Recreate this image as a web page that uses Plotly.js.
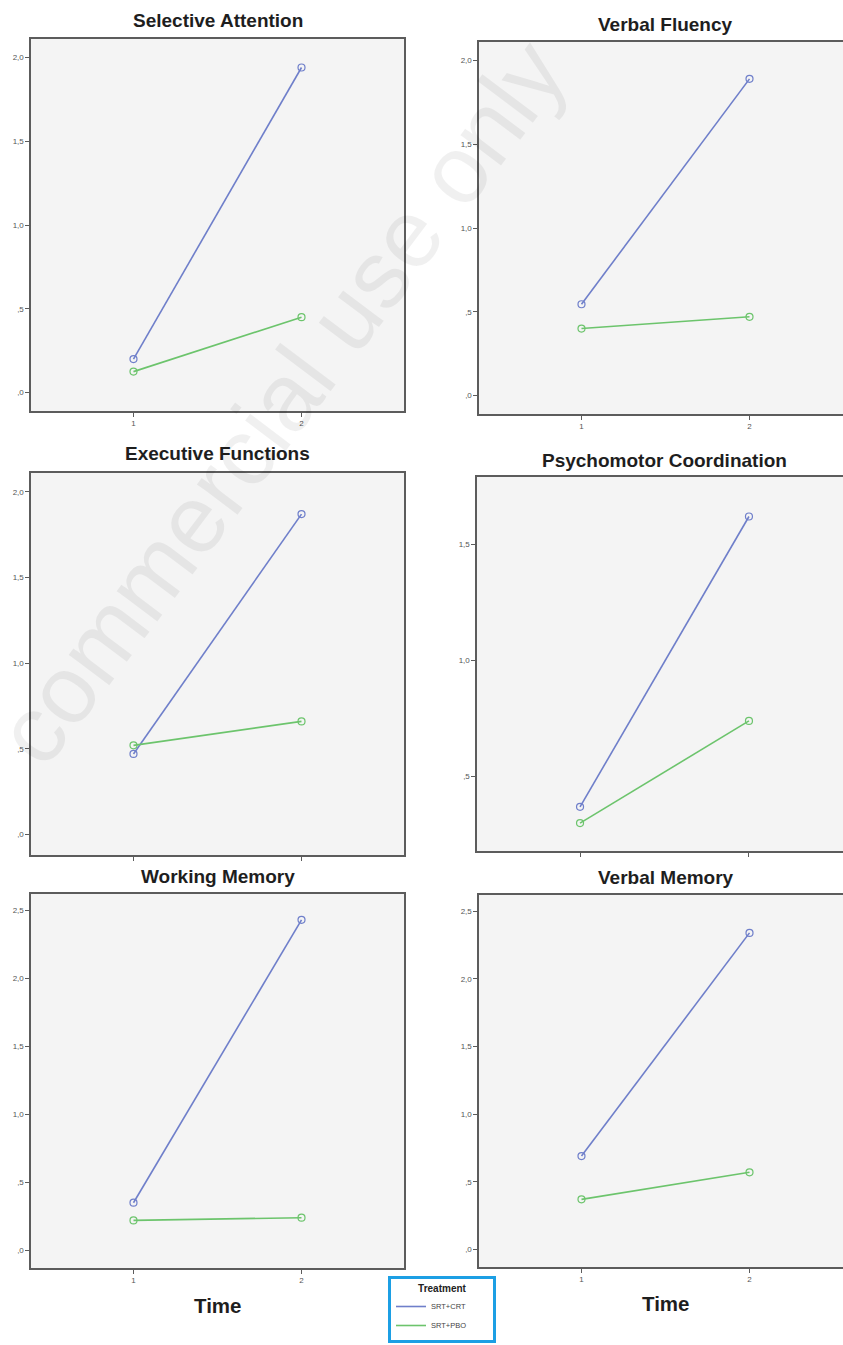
<!DOCTYPE html>
<html>
<head>
<meta charset="utf-8">
<script src="https://cdn.plot.ly/plotly-3.0.1.min.js"></script>
<style>
html,body{margin:0;padding:0;overflow:hidden;background:#fff;width:843px;height:1345px;}
#chart{width:860px;height:1345px;}
</style>
</head>
<body>
<div id="chart"></div>
<script>
// ---- data ----
const timePoints = [1, 2];
const timeTickText = ['1', '2'];
const panelTitles = ['Selective Attention', 'Verbal Fluency', 'Executive Functions',
                     'Psychomotor Coordination', 'Working Memory', 'Verbal Memory'];
const seriesNames = ['SRT+CRT', 'SRT+PBO'];

const selAttCRT = [0.20, 1.94];
const selAttPBO = [0.125, 0.45];
const verbFluCRT = [0.545, 1.89];
const verbFluPBO = [0.40, 0.47];
const execFunCRT = [0.47, 1.87];
const execFunPBO = [0.52, 0.66];
const psychoCRT = [0.37, 1.62];
const psychoPBO = [0.30, 0.74];
const workMemCRT = [0.35, 2.43];
const workMemPBO = [0.22, 0.24];
const verbMemCRT = [0.69, 2.34];
const verbMemPBO = [0.37, 0.57];

const yTicks20 = [0, 0.5, 1, 1.5, 2];
const yText20 = [',0', ',5', '1,0', '1,5', '2,0'];
const yTicks15 = [0.5, 1, 1.5];
const yText15 = [',5', '1,0', '1,5'];
const yTicks25 = [0, 0.5, 1, 1.5, 2, 2.5];
const yText25 = [',0', ',5', '1,0', '1,5', '2,0', '2,5'];

// ---- layout geometry (pixels) ----
const W = 860, H = 1345;
const px = v => v / W;
const py = v => 1 - v / H;

const panels = [
  {crt: selAttCRT, pbo: selAttPBO, box: [31, 404, 39, 411], yr: [-0.11, 2.11], tv: yTicks20, tt: yText20, xlab: true, title: 20},
  {crt: verbFluCRT, pbo: verbFluPBO, box: [479, 852, 42, 414], yr: [-0.11, 2.11], tv: yTicks20, tt: yText20, xlab: true, title: 24},
  {crt: execFunCRT, pbo: execFunPBO, box: [31, 404, 473, 855], yr: [-0.12, 2.11], tv: yTicks20, tt: yText20, xlab: false, title: 453},
  {crt: psychoCRT, pbo: psychoPBO, box: [477, 852, 477, 851], yr: [0.18, 1.79], tv: yTicks15, tt: yText15, xlab: false, title: 460},
  {crt: workMemCRT, pbo: workMemPBO, box: [31, 404, 894, 1268], yr: [-0.13, 2.62], tv: yTicks25, tt: yText25, xlab: true, title: 876},
  {crt: verbMemCRT, pbo: verbMemPBO, box: [479, 852, 895, 1267], yr: [-0.13, 2.62], tv: yTicks25, tt: yText25, xlab: true, title: 878}
];

const blue = '#6f7fca';
const green = '#6cc46c';
const axisCol = '#5c5c5c';
const tickFont = {family: 'Liberation Sans, Arial, sans-serif', size: 8, color: '#555'};
const pad = '&nbsp;'.repeat(9);

const traces = [];
const layout = {
  width: W, height: H,
  margin: {l: 0, r: 0, t: 0, b: 0},
  paper_bgcolor: '#ffffff',
  showlegend: true,
  legend: {
    x: px(388), y: py(1276), xanchor: 'left', yanchor: 'top',
    bgcolor: '#ffffff', bordercolor: '#1c9fe4', borderwidth: 3,
    font: {family: 'Liberation Sans, Arial, sans-serif', size: 7.5, color: '#444'},
    title: {text: pad + '<b>Treatment</b>' + pad, side: 'top center',
            font: {family: 'Liberation Sans, Arial, sans-serif', size: 10, color: '#222'}},
    itemwidth: 30, tracegroupgap: 0
  },
  annotations: [],
  shapes: []
};

panels.forEach((p, i) => {
  const n = i + 1;
  const xa = n === 1 ? 'x' : 'x' + n;
  const ya = n === 1 ? 'y' : 'y' + n;
  const xk = n === 1 ? 'xaxis' : 'xaxis' + n;
  const yk = n === 1 ? 'yaxis' : 'yaxis' + n;
  [[p.crt, blue, seriesNames[0]], [p.pbo, green, seriesNames[1]]].forEach(([vals, col, nm]) => {
    traces.push({
      type: 'scatter', mode: 'lines+markers', x: timePoints, y: vals,
      xaxis: xa, yaxis: ya, name: nm, showlegend: false,
      line: {color: col, width: 1.6},
      marker: {symbol: 'circle-open', size: 7, color: col, line: {width: 1.2, color: col}},
      cliponaxis: false, hoverinfo: 'skip'
    });
  });
  const [l, r, t, b] = p.box;
  layout[xk] = {
    domain: [px(l), px(r)], range: [0.39, 2.61], anchor: ya,
    tickvals: timePoints, ticktext: timeTickText, showticklabels: p.xlab,
    ticks: 'outside', ticklen: 4, tickwidth: 1, tickcolor: axisCol,
    tickfont: tickFont, showgrid: false, zeroline: false,
    showline: true, mirror: true, linecolor: axisCol, linewidth: 1.6, fixedrange: true
  };
  layout[yk] = {
    domain: [py(b), py(t)], range: p.yr, anchor: xa,
    tickvals: p.tv, ticktext: p.tt,
    ticks: 'outside', ticklen: 4, tickwidth: 1, tickcolor: axisCol,
    tickfont: tickFont, showgrid: false, zeroline: false,
    showline: true, mirror: true, linecolor: axisCol, linewidth: 1.6, fixedrange: true
  };
  layout.shapes.push({type: 'rect', xref: xa + ' domain', yref: ya + ' domain',
    x0: 0, x1: 1, y0: 0, y1: 1, fillcolor: '#f4f4f4', line: {width: 0}, layer: 'below'});
  layout.annotations.push({
    text: '<b>' + panelTitles[i] + '</b>', xref: 'paper', yref: 'paper',
    x: px((l + r) / 2), y: py(p.title), xanchor: 'center', yanchor: 'middle',
    showarrow: false, font: {family: 'Liberation Sans, Arial, sans-serif', size: 19, color: '#1e1e1e'}
  });
});

// x-axis titles under bottom row
[[217, 1305], [665, 1303]].forEach(([x, y]) => {
  layout.annotations.push({
    text: '<b>Time</b>', xref: 'paper', yref: 'paper', x: px(x), y: py(y),
    xanchor: 'center', yanchor: 'middle', showarrow: false,
    font: {family: 'Liberation Sans, Arial, sans-serif', size: 20.5, color: '#1e1e1e'}
  });
});

// watermark
layout.annotations.push({
  text: 'commercial use only', xref: 'paper', yref: 'paper',
  x: px(280), y: py(402), xanchor: 'center', yanchor: 'middle', showarrow: false,
  textangle: -53,
  font: {family: 'Liberation Sans, Arial, sans-serif', size: 96, color: 'rgba(0,0,0,0.06)'}
});

// legend entries (line samples only)
[[blue, seriesNames[0]], [green, seriesNames[1]]].forEach(([col, nm]) => {
  traces.push({type: 'scatter', mode: 'lines', x: [null], y: [null], name: nm,
    line: {color: col, width: 1.6}, showlegend: true, hoverinfo: 'skip'});
});

Plotly.newPlot('chart', traces, layout, {staticPlot: true, displayModeBar: false});
</script>
</body>
</html>
